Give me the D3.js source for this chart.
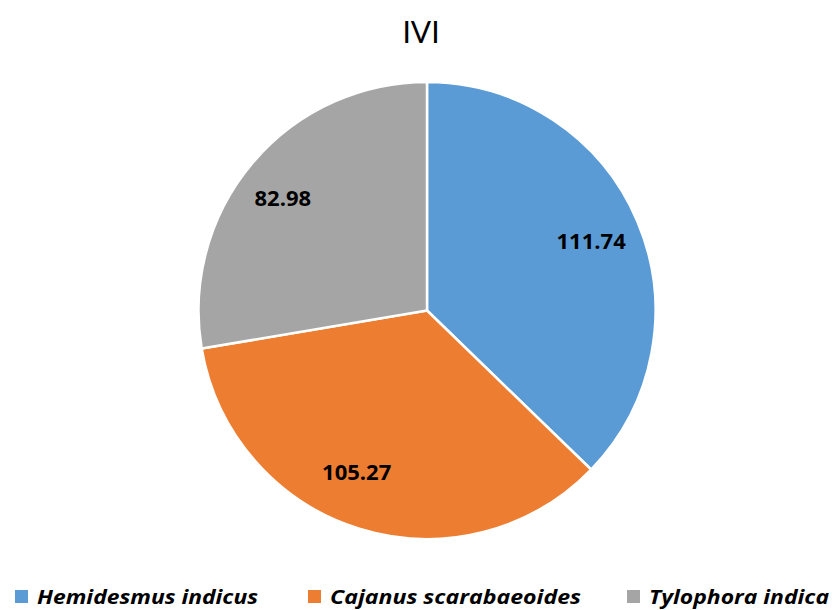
<!DOCTYPE html>
<html><head><meta charset="utf-8">
<script src="https://cdn.jsdelivr.net/npm/d3@7"></script>
<style>body{margin:0;background:#fff}svg{display:block}</style>
</head><body>
<script>
const categories = ["Hemidesmus indicus", "Cajanus scarabaeoides", "Tylophora indica"];
const values = [111.74, 105.27, 82.98];
const colors = ["#5B9BD5", "#ED7D31", "#A5A5A5"];
const title = "IVI";

const W = 833, H = 610;
const svg = d3.select("body").append("svg").attr("width", W).attr("height", H);
const cx = 427, cy = 310.5, r = 228.5;

svg.append("text").attr("x", 421).attr("y", 43).attr("text-anchor", "middle")
  .attr("font-family", "Lato, 'Open Sans', sans-serif").attr("font-size", 30)
  .attr("fill", "#000").text(title);

const data = categories.map((c, i) => ({c, v: values[i], col: colors[i]}));
const pie = d3.pie().value(d => d.v).sort(null);
const arcs = pie(data);
const arc = d3.arc().innerRadius(0).outerRadius(r);
// label placement (Excel best-fit style): radius factor and angular nudge per slice
const labelR = [0.78, 0.77, 0.80];
const labelShift = [0, 0.11, -0.04];

const g = svg.append("g").attr("transform", `translate(${cx},${cy})`);
g.selectAll("path").data(arcs).join("path")
  .attr("d", arc).attr("fill", d => d.data.col)
  .attr("stroke", "#fff").attr("stroke-width", 2.5).attr("stroke-linejoin", "round");

g.selectAll("text.lbl").data(arcs).join("text").attr("class", "lbl")
  .attr("transform", (d, i) => {
    const a = (d.startAngle + d.endAngle) / 2 + labelShift[i];
    const rr = r * labelR[i];
    return `translate(${rr * Math.sin(a)},${-rr * Math.cos(a)})`;
  })
  .attr("text-anchor", "middle").attr("dy", "0.36em")
  .attr("font-family", "'Open Sans', sans-serif").attr("font-weight", "bold").attr("font-size", 22)
  .attr("fill", "#000").text(d => d.data.v.toFixed(2));

const legX = [15, 308, 627];
const legW = [221, 251, 180];
const leg = svg.append("g");
data.forEach((d, i) => {
  leg.append("rect").attr("x", legX[i]).attr("y", 590).attr("width", 13).attr("height", 13).attr("fill", d.col);
  leg.append("text").attr("x", legX[i] + 22).attr("y", 604)
    .attr("font-family", "'Open Sans', sans-serif").attr("font-weight", "bold").attr("font-style", "italic")
    .attr("font-size", 19).attr("fill", "#000")
    .attr("textLength", legW[i]).attr("lengthAdjust", "spacingAndGlyphs")
    .text(d.c);
});
</script>
</body></html>
